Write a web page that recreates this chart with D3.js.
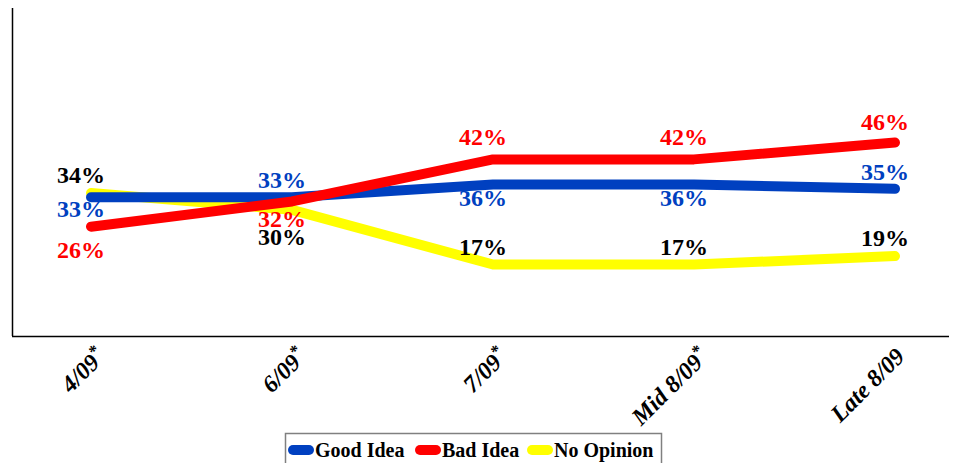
<!DOCTYPE html>
<html>
<head>
<meta charset="utf-8">
<script src="https://cdn.jsdelivr.net/npm/d3@7"></script>
<style>
body { margin: 0; background: #fff; }
svg text { font-family: 'Liberation Serif', 'Times New Roman', Times, serif; }
</style>
</head>
<body>
<svg width="959" height="463"></svg>
<script>
'use strict';

var categories = ['4/09*', '6/09*', '7/09*', 'Mid 8/09*', 'Late 8/09'];
var seriesNames = ['Good Idea', 'Bad Idea', 'No Opinion'];
var goodIdea = [33, 33, 36, 36, 35];
var badIdea = [26, 32, 42, 42, 46];
var noOpinion = [34, 30, 17, 17, 19];

// label offsets from the point (baseline)
var goodDy = [20, -9, 21, 21, -9];
var badDy = [31, 26, -14, -14, -13];
var noDy = [-10, 35, -10, -10, -10];

var svg = d3.select('svg');
var x = d3.scalePoint().domain(categories).range([91, 895]);
var y = d3.scaleLinear().domain([0, 78]).range([336, 8]);

var series = [
    { name: seriesNames[2], values: noOpinion, dy: noDy, color: '#ffff00', text: '#000000' },
    { name: seriesNames[0], values: goodIdea, dy: goodDy, color: '#0040c0', text: '#0040c0' },
    { name: seriesNames[1], values: badIdea, dy: badDy, color: '#ff0000', text: '#ff0000' }
];

// axes lines
svg.append('line')
    .attr('x1', 12.5).attr('x2', 12.5).attr('y1', 8).attr('y2', 336)
    .attr('stroke', '#000').attr('stroke-width', 1.5);
svg.append('line')
    .attr('x1', 12).attr('x2', 949).attr('y1', 336.5).attr('y2', 336.5)
    .attr('stroke', '#000').attr('stroke-width', 1.5);

var line = d3.line()
    .x(function (d, i) { return x(categories[i]); })
    .y(function (d) { return y(d); });

series.forEach(function (s) {
    svg.append('path')
        .datum(s.values)
        .attr('d', line)
        .attr('fill', 'none')
        .attr('stroke', s.color)
        .attr('stroke-width', 10)
        .attr('stroke-linecap', 'round')
        .attr('stroke-linejoin', 'round');
});

series.forEach(function (s) {
    svg.append('g').selectAll('text')
        .data(s.values)
        .enter()
        .append('text')
        .attr('x', function (d, i) { return x(categories[i]) - 10; })
        .attr('y', function (d, i) { return y(d) + s.dy[i]; })
        .attr('text-anchor', 'middle')
        .attr('font-size', 24)
        .attr('font-weight', 'bold')
        .attr('fill', s.text)
        .text(function (d) { return d + '%'; });
});

// category labels
svg.append('g').selectAll('text')
    .data(categories)
    .enter()
    .append('text')
    .attr('transform', function (d) {
        var dx = d.slice(-1) === '*' ? 4 : -1;
        return 'translate(' + (x(d) + dx) + ',346) rotate(-45)';
    })
    .attr('text-anchor', 'end')
    .attr('dy', '0.7em')
    .attr('font-size', 24)
    .attr('font-weight', 'bold')
    .attr('font-style', 'italic')
    .each(function (d) {
        var t = d3.select(this);
        if (d.slice(-1) === '*') {
            t.append('tspan').text(d.slice(0, -1));
            t.append('tspan').attr('font-size', 17).attr('dy', '-0.5em').text('*');
        } else {
            t.text(d);
        }
    });

// legend
var legend = svg.append('g');
legend.append('rect')
    .attr('x', 285.5).attr('y', 433.5).attr('width', 376).attr('height', 40)
    .attr('fill', '#fff').attr('stroke', '#808080').attr('stroke-width', 1.5);

var legendItems = [
    { name: seriesNames[0], color: '#0040c0', x: 293 },
    { name: seriesNames[1], color: '#ff0000', x: 420 },
    { name: seriesNames[2], color: '#ffff00', x: 532 }
];
legendItems.forEach(function (it) {
    legend.append('line')
        .attr('x1', it.x).attr('x2', it.x + 16)
        .attr('y1', 450).attr('y2', 450)
        .attr('stroke', it.color).attr('stroke-width', 10)
        .attr('stroke-linecap', 'round');
    legend.append('text')
        .attr('x', it.x + 22).attr('y', 457)
        .attr('font-size', 20)
        .attr('font-weight', 'bold')
        .text(it.name);
});
</script>
</body>
</html>
